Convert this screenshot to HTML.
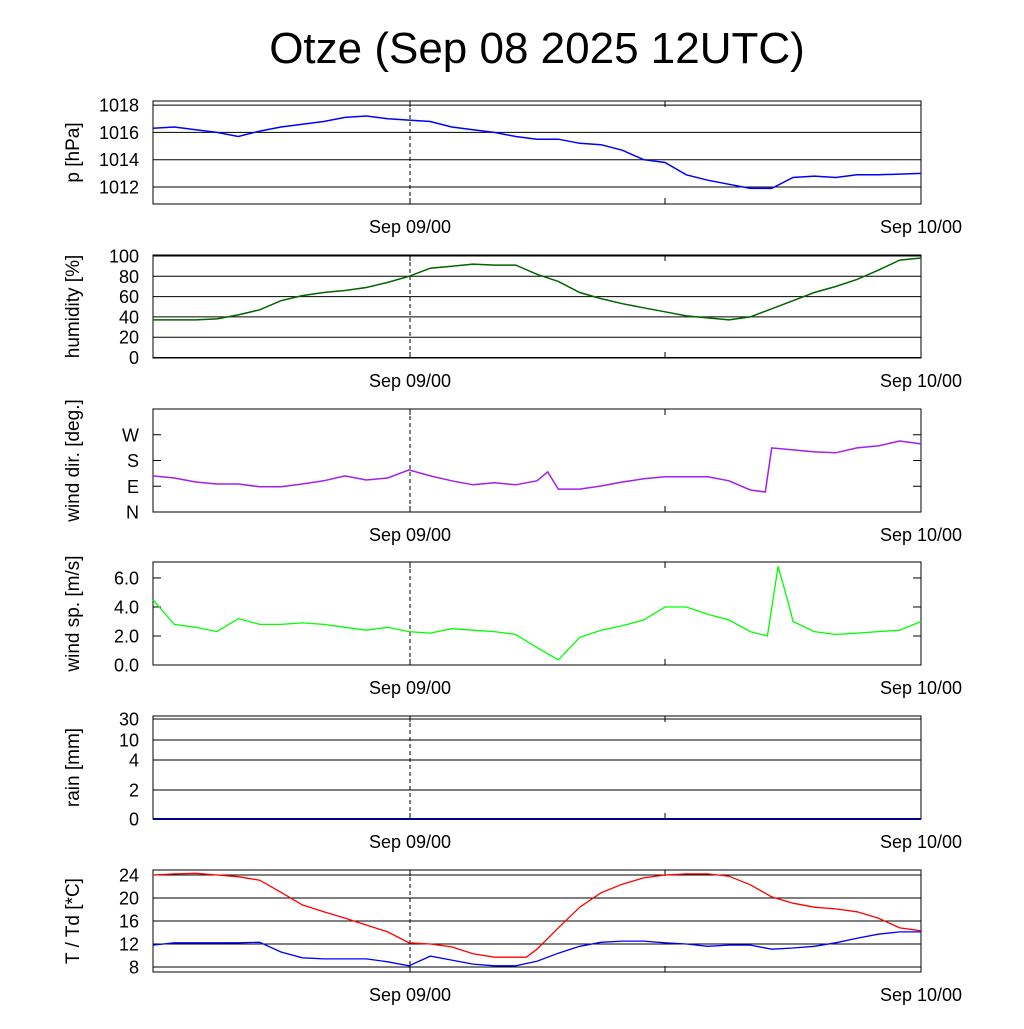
<!DOCTYPE html>
<html><head><meta charset="utf-8"><style>
body{margin:0;background:#fff}
svg text{font-family:"Liberation Sans",sans-serif;fill:#000}
</style></head><body>
<svg id="c" width="1024" height="1024" xmlns="http://www.w3.org/2000/svg">
<text x="537" y="63" font-size="44" text-anchor="middle">Otze (Sep 08 2025 12UTC)</text>
</svg>
<script>
const hours=[0,1,2,3,4,5,6,7,8,9,10,11,12,13,14,15,16,17,18,19,20,21,22,23,24,25,26,27,28,29,30,31,32,33,34,35,36];
const pressure=[1016.3,1016.4,1016.2,1016.0,1015.7,1016.1,1016.4,1016.6,1016.8,1017.1,1017.2,1017.0,1016.9,1016.8,1016.4,1016.2,1016.0,1015.7,1015.5,1015.5,1015.2,1015.1,1014.7,1014.0,1013.8,1012.9,1012.5,1012.2,1011.9,1011.9,1012.7,1012.8,1012.7,1012.9,1012.9,1012.95,1013.0];
const humidity=[37,37,37,38,42,47,56,61,64,66,69,74,80,88,90,92,91,91,82,75,64,58,53,49,45,41,39,37,40,48,56,64,70,77,86,96,98];
const dirHours=[0,1,2,3,4,5,6,7,8,9,10,11,12,13,14,15,16,17,18,18.5,19,20,21,22,23,24,25,26,27,28,28.7,29,30,31,32,33,34,35,36];
const windDir=[126,119,105,98,98,88,88,98,109,126,112,119,147,126,109,95,102,95,109,140,80,80,91,105,116,123,123,123,109,77,70,224,217,210,207,224,231,248,238];
const spdHours=[0,1,2,3,4,5,6,7,8,9,10,11,12,13,14,15,16,17,18,19,20,21,22,23,24,25,26,27,28,28.8,29.3,29.8,30,31,32,33,34,35,36];
const windSpeed=[4.5,2.8,2.6,2.3,3.2,2.8,2.8,2.9,2.8,2.6,2.4,2.6,2.3,2.2,2.5,2.4,2.3,2.1,1.2,0.35,1.9,2.4,2.7,3.1,4.0,4.0,3.5,3.1,2.3,2.0,6.8,4.2,3.0,2.3,2.1,2.2,2.3,2.4,3.0];
const rain=[0,0];
const rainHours=[0,36];
const tHours=[0,1,2,3,4,5,6,7,8,9,10,11,12,13,14,15,16,17,17.5,18,19,20,21,22,23,24,25,26,27,28,29,30,31,32,33,34,35,36];
const temp=[24.0,24.2,24.3,24.0,23.7,23.1,21.0,18.8,17.6,16.5,15.3,14.1,12.2,12.0,11.5,10.3,9.7,9.7,9.7,11.1,14.8,18.4,20.9,22.4,23.5,24.0,24.2,24.2,23.8,22.3,20.2,19.1,18.4,18.1,17.6,16.5,14.8,14.3];
const dew=[11.8,12.2,12.2,12.2,12.2,12.3,10.6,9.6,9.4,9.4,9.4,8.9,8.2,9.9,9.2,8.5,8.2,8.2,8.6,9.0,10.4,11.6,12.3,12.5,12.5,12.2,12.0,11.6,11.8,11.8,11.1,11.3,11.6,12.2,13.0,13.7,14.1,14.1];
const NS='http://www.w3.org/2000/svg';
const svg=document.getElementById('c');
const X0=153,X1=921;
const xs=h=>X0+(X1-X0)*h/36;
function el(t,a,p){const e=document.createElementNS(NS,t);for(const k in a)e.setAttribute(k,a[k]);(p||svg).appendChild(e);return e;}
function panel(name,top,bot,vmin,vmax,ticks,grid,label,ymap){
  const g=el('g',{});
  
  
  const ys=ymap||(v=>bot-(v-vmin)/(vmax-vmin)*(bot-top));
  ticks.forEach(t=>{
    const y=ys(t.v);
    if(grid){const l=el('line',{x1:X0,x2:X1,y1:y,y2:y,stroke:'#000','stroke-width':1},g);
      
      }
    else{el('line',{x1:X0,x2:X0+8,y1:y,y2:y,stroke:'#000'},g);el('line',{x1:X1,x2:X1-8,y1:y,y2:y,stroke:'#000'},g);}
    const tx=el('text',{x:X0-14,y:y+6.5,'font-size':18,'text-anchor':'end'},g);tx.textContent=t.l;
    
    
  });
  [410,665,921].forEach(x=>{el('line',{x1:x,x2:x,y1:bot,y2:bot-6,stroke:'#000'},g);el('line',{x1:x,x2:x,y1:top,y2:top+6,stroke:'#000'},g);});
  const dl=el('line',{x1:410,x2:410,y1:top,y2:bot,stroke:'#000','stroke-dasharray':'4,3'},g);
  
  
  const fr=el('rect',{x:X0,y:top,width:X1-X0,height:bot-top,fill:'none',stroke:'#000'},g);
  
  
  [[410,'Sep 09/00'],[921,'Sep 10/00']].forEach(([x,s])=>{const t=el('text',{x:x,y:bot+29,'font-size':18,'text-anchor':'middle'},g);t.textContent=s;
    
    });
  const yl=el('text',{x:0,y:0,'font-size':19,'text-anchor':'middle',transform:`translate(${X0-74},${(top+bot)/2}) rotate(-90)`},g);yl.textContent=label;
  
  
  return {g,ys};
}
function series(p,name,hs,vals,color,w){
  const d=hs.map((h,i)=>(i?'L':'M')+xs(h).toFixed(1)+','+p.ys(vals[i]).toFixed(1)).join('');
  const path=el('path',{d:d,fill:'none',stroke:color,'stroke-width':w||1.3},p.g);
  
  
}
const tk=(a,f)=>a.map(v=>({v:v,l:f?f(v):String(v)}));
let p=panel('pressure',101,204,1010.76,1018.3,tk([1012,1014,1016,1018]),true,'p [hPa]');
series(p,'pressure-line',hours,pressure,'#0000ff',1.5);
p=panel('humidity',255,358,-0.5,101,tk([0,20,40,60,80,100]),true,'humidity [%]');
series(p,'humidity-line',hours,humidity,'#006400',1.5);
p=panel('wind-dir',409,512,0,360,[{v:0,l:'N'},{v:90,l:'E'},{v:180,l:'S'},{v:270,l:'W'}],false,'wind dir. [deg.]');
series(p,'wind-direction-line',dirHours,windDir,'#a020f0',1.5);
p=panel('wind-speed',562,665,0,7.1,tk([0,2,4,6],v=>v.toFixed(1)),false,'wind sp. [m/s]');
series(p,'wind-speed-line',spdHours,windSpeed,'#00ff00',1.3);
const rv=[0,2,4,10,30],ry=[819,790,760,740,719];
p=panel('rain',716,819,0,30,tk([0,2,4,10,30]),true,'rain [mm]',v=>{for(let i=1;i<rv.length;i++)if(v<=rv[i])return ry[i-1]+(v-rv[i-1])/(rv[i]-rv[i-1])*(ry[i]-ry[i-1]);return 716;});
series(p,'rain-line',rainHours,rain,'#00008b',2);
p=panel('temperature',870,972,7.13,24.87,tk([8,12,16,20,24]),true,'T / Td [*C]');
series(p,'temperature-line',tHours,temp,'#ff0000',1.3);
series(p,'dewpoint-line',tHours,dew,'#0000ff',1.3);
</script>
</body></html>
